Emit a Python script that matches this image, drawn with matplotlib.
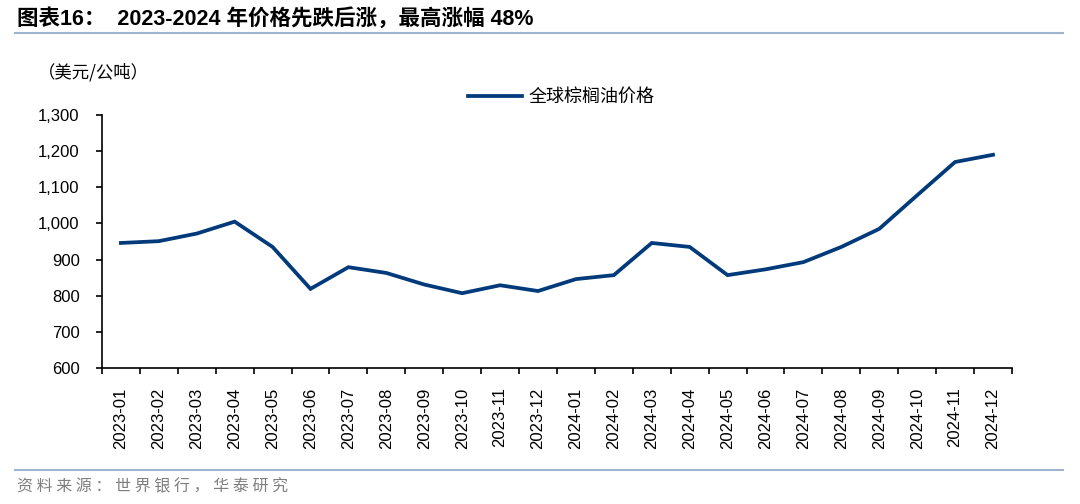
import numpy as np
import matplotlib.pyplot as plt
from matplotlib.ticker import FuncFormatter

plt.rcParams['font.family'] = ['Liberation Sans', 'Noto Sans CJK SC', 'DejaVu Sans']

# monthly global palm oil price, USD/tonne
months = ['2023-01', '2023-02', '2023-03', '2023-04', '2023-05', '2023-06',
          '2023-07', '2023-08', '2023-09', '2023-10', '2023-11', '2023-12',
          '2024-01', '2024-02', '2024-03', '2024-04', '2024-05', '2024-06',
          '2024-07', '2024-08', '2024-09', '2024-10', '2024-11', '2024-12']
prices = [946, 951, 972, 1005, 935, 819, 879, 863, 831, 807, 829, 813,
          846, 857, 946, 935, 857, 873, 893, 935, 985, 1078, 1170, 1190]

title = '图表16：  2023-2024 年价格先跌后涨，最高涨幅 48%'
unit = '（美元/公吨）'
series_name = '全球棕榈油价格'
source = '资料来源：世界银行，华泰研究'

line_color = '#003A7A'
rule_color = '#9DB3CF'
cjk = ['Noto Sans CJK SC', 'DejaVu Sans']

fig = plt.figure(figsize=(10.8, 5.04), dpi=100)
ax = fig.add_axes([0.0944, 0.2698, 0.8426, 0.502])

x = np.arange(len(months))
ax.plot(x, prices, color=line_color, lw=2.7, solid_joinstyle='miter',
        label=series_name)

ax.set_xlim(-0.5, len(months) - 0.5)
ax.set_ylim(600, 1300)
ax.set_yticks(np.arange(600, 1301, 100))
ax.yaxis.set_major_formatter(FuncFormatter(lambda v, p: f'{int(v):,}'))

# month labels centred, tick marks at the boundaries
ax.set_xticks(x)
ax.set_xticklabels(months, rotation=90, fontsize=12)
ax.set_xticks(np.arange(-0.5, len(months)), minor=True)
ax.tick_params(axis='x', which='major', length=0, pad=14)
ax.tick_params(axis='x', which='minor', length=4, width=1.2, direction='out')
ax.tick_params(axis='y', length=4, width=1.2, direction='out', labelsize=12, pad=12)

for s in ['top', 'right']:
    ax.spines[s].set_visible(False)
for s in ['left', 'bottom']:
    ax.spines[s].set_linewidth(1.2)

leg = ax.legend(loc='upper left', bbox_to_anchor=(0.384, 1.17), frameon=False,
                handlelength=3.0, handletextpad=0.35,
                prop={'family': cjk, 'size': 13})

# header, rules and footer
fig.text(0.016, 0.962, title, fontsize=15.5, fontweight='bold', va='center',
         family=['Liberation Sans', 'Noto Sans CJK SC'])
fig.add_artist(plt.Line2D([0.014, 0.984], [0.934, 0.934], color=rule_color, lw=1.5))
fig.text(0.035, 0.857, unit, fontsize=12.5, va='center', family=cjk)
fig.add_artist(plt.Line2D([0.014, 0.984], [0.067, 0.067], color=rule_color, lw=1.5))
fig.text(0.016, 0.035, ' '.join(source), fontsize=11.5, color='#7F7F7F',
         va='center', family=cjk)

fig.savefig('out.png', dpi=100)
